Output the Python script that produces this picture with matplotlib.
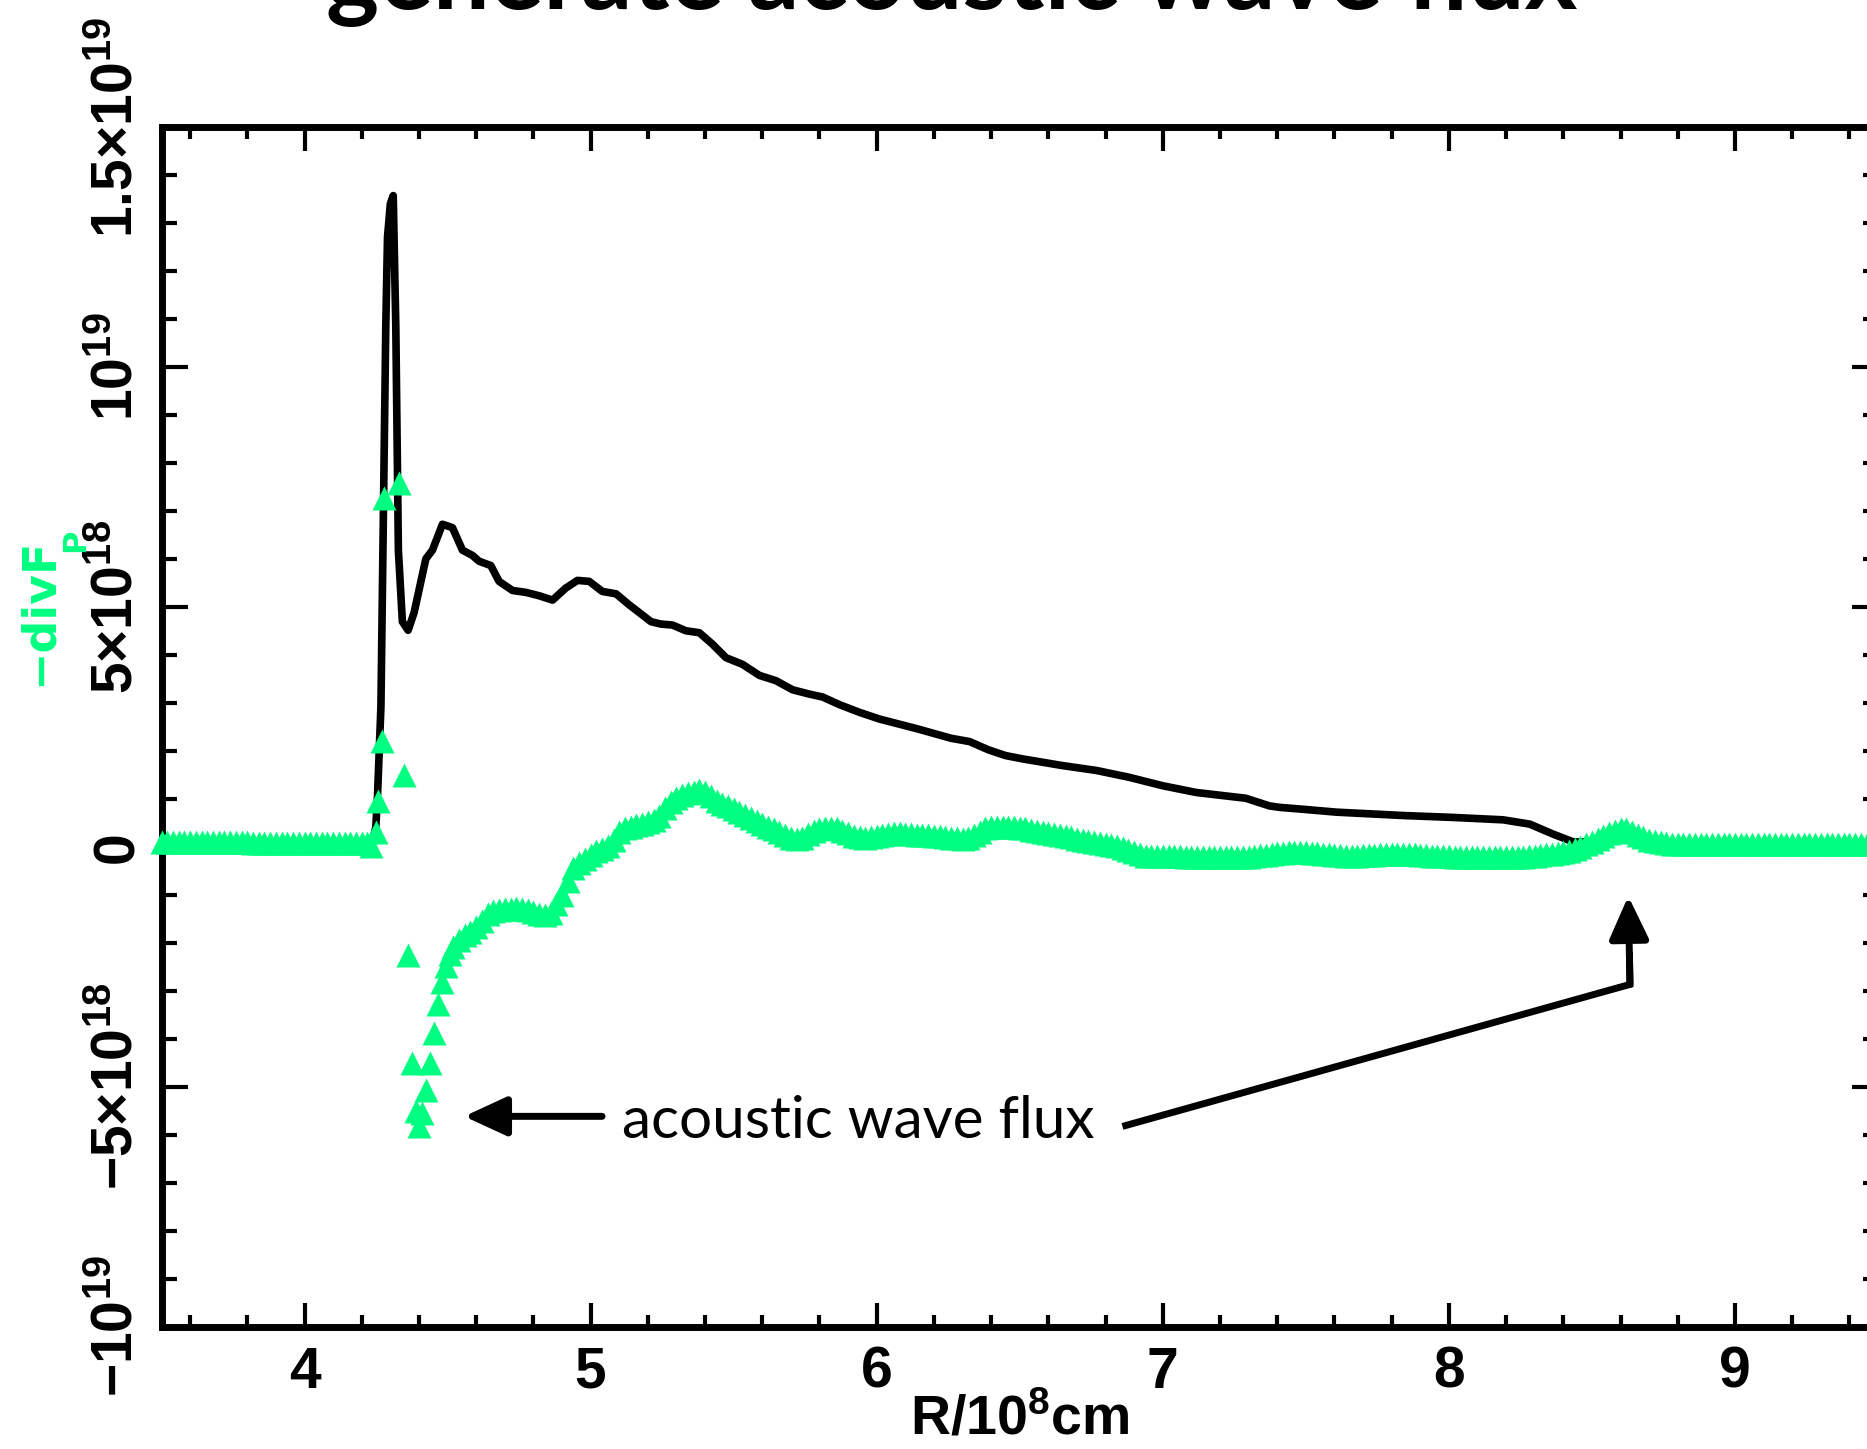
import matplotlib
matplotlib.use('Agg')
import matplotlib.pyplot as plt
import numpy as np
from matplotlib.ticker import MultipleLocator

plt.rcParams['font.family'] = ['Liberation Sans', 'DejaVu Sans']
plt.rcParams['font.weight'] = 'bold'
plt.rcParams['mathtext.fontset'] = 'custom'
plt.rcParams['mathtext.bf'] = 'Liberation Sans:bold'
plt.rcParams['mathtext.rm'] = 'Liberation Sans:bold'
plt.rcParams['mathtext.it'] = 'Liberation Sans:bold'
plt.rcParams['mathtext.default'] = 'bf'

# ---------------- data (y in units of 1e18) ----------------
black_x = [3.50, 3.60, 3.70, 3.75, 3.80, 3.90, 4.00, 4.10, 4.20, 4.237, 4.249, 4.255,
           4.267, 4.276, 4.284, 4.290, 4.300, 4.310, 4.319, 4.328, 4.342, 4.362, 4.383,
           4.424, 4.447, 4.482, 4.517, 4.552, 4.587, 4.610, 4.651, 4.680, 4.727, 4.774,
           4.820, 4.867, 4.913, 4.954, 4.995, 5.041, 5.089, 5.135, 5.170, 5.211, 5.246,
           5.286, 5.333, 5.380, 5.426, 5.473, 5.531, 5.590, 5.648, 5.706, 5.765, 5.811,
           5.870, 5.940, 6.010, 6.075, 6.140, 6.200, 6.260, 6.325, 6.390, 6.450, 6.510,
           6.650, 6.767, 6.880, 7.000, 7.117, 7.290, 7.373, 7.408, 7.490, 7.607, 7.840,
           8.015, 8.190, 8.283, 8.365, 8.435, 8.480, 8.540, 8.597, 8.650, 8.700, 8.800,
           9.000, 9.500]
black_y = [0.0, 0.0, -0.05, -0.08, -0.05, 0.0, 0.0, 0.0, 0.02, 0.10, 0.40, 1.05,
           2.92, 7.12, 10.85, 12.71, 13.40, 13.57, 10.85, 6.18, 4.69, 4.51, 4.88,
           6.00, 6.18, 6.72, 6.65, 6.18, 6.07, 5.95, 5.86, 5.53, 5.34, 5.30,
           5.23, 5.14, 5.39, 5.55, 5.53, 5.32, 5.27, 5.04, 4.88, 4.69, 4.64,
           4.62, 4.50, 4.46, 4.22, 3.94, 3.80, 3.57, 3.46, 3.27, 3.18, 3.12,
           2.96, 2.80, 2.66, 2.56, 2.46, 2.36, 2.26, 2.19, 2.02, 1.90, 1.83,
           1.69, 1.59, 1.45, 1.27, 1.13, 1.01, 0.85, 0.82, 0.78, 0.72, 0.65,
           0.61, 0.56, 0.47, 0.26, 0.10, 0.10, 0.12, 0.16, 0.12, 0.03, 0.0,
           0.0, 0.0]

# -divF_P samples: (R, value)
green_inner = [
    (3.50, 0.10), (3.52, 0.10), (3.54, 0.10), (3.56, 0.10), (3.58, 0.10), (3.60, 0.10),
    (3.62, 0.09), (3.64, 0.09), (3.66, 0.09), (3.68, 0.09), (3.70, 0.09), (3.72, 0.09),
    (3.74, 0.09), (3.76, 0.09), (3.78, 0.09), (3.80, 0.09), (3.82, 0.08), (3.84, 0.08),
    (3.86, 0.08), (3.88, 0.08), (3.90, 0.08), (3.92, 0.08), (3.94, 0.08), (3.96, 0.08),
    (3.98, 0.08), (4.00, 0.08), (4.02, 0.08), (4.04, 0.08), (4.06, 0.08), (4.08, 0.08),
    (4.10, 0.07), (4.12, 0.07), (4.14, 0.07), (4.16, 0.07), (4.18, 0.07), (4.20, 0.07),
    (4.22, 0.07)]
green_jump = [
    (4.232, 0.02), (4.249, 0.30), (4.258, 0.96), (4.271, 2.21), (4.279, 7.26),
    (4.329, 7.59), (4.346, 1.49), (4.362, -2.25), (4.375, -4.50), (4.388, -5.50),
    (4.399, -5.82), (4.412, -5.55), (4.425, -5.07), (4.440, -4.50), (4.453, -3.88),
    (4.467, -3.28), (4.480, -2.81), (4.494, -2.49), (4.508, -2.24)]
green_outer = [
    (4.52, -2.10), (4.54, -1.95), (4.56, -1.85), (4.58, -1.78), (4.60, -1.68), (4.62, -1.55),
    (4.64, -1.40), (4.66, -1.33), (4.68, -1.31), (4.70, -1.30), (4.72, -1.29), (4.74, -1.28),
    (4.76, -1.30), (4.78, -1.32), (4.80, -1.37), (4.82, -1.41), (4.84, -1.42), (4.86, -1.38),
    (4.88, -1.20), (4.90, -1.00), (4.92, -0.72), (4.94, -0.45), (4.96, -0.33), (4.98, -0.25),
    (5.00, -0.18), (5.02, -0.10), (5.04, -0.05), (5.06, 0.02), (5.08, 0.15), (5.10, 0.30),
    (5.12, 0.38), (5.14, 0.42), (5.16, 0.45), (5.18, 0.48), (5.20, 0.52), (5.22, 0.56),
    (5.24, 0.65), (5.26, 0.80), (5.28, 0.93), (5.30, 1.02), (5.32, 1.08), (5.34, 1.12),
    (5.36, 1.15), (5.38, 1.18), (5.40, 1.15), (5.42, 1.05), (5.44, 0.96), (5.46, 0.90),
    (5.48, 0.84), (5.50, 0.78), (5.52, 0.72), (5.54, 0.66), (5.56, 0.60), (5.58, 0.54),
    (5.60, 0.48), (5.62, 0.42), (5.64, 0.36), (5.66, 0.30), (5.68, 0.24), (5.70, 0.18),
    (5.72, 0.16), (5.74, 0.18), (5.76, 0.26), (5.78, 0.33), (5.80, 0.36), (5.82, 0.38),
    (5.84, 0.39), (5.86, 0.38), (5.88, 0.33), (5.90, 0.28), (5.92, 0.23), (5.94, 0.20),
    (5.96, 0.19), (5.98, 0.20), (6.00, 0.22), (6.02, 0.25), (6.04, 0.27), (6.06, 0.28),
    (6.08, 0.28), (6.10, 0.27), (6.12, 0.26), (6.14, 0.25), (6.16, 0.24), (6.18, 0.24),
    (6.20, 0.23), (6.22, 0.22), (6.24, 0.20), (6.26, 0.19), (6.28, 0.18), (6.30, 0.17),
    (6.32, 0.19), (6.34, 0.24), (6.36, 0.31), (6.38, 0.38), (6.40, 0.41), (6.42, 0.42),
    (6.44, 0.42), (6.46, 0.42), (6.48, 0.41), (6.50, 0.40), (6.52, 0.38), (6.54, 0.35),
    (6.56, 0.33), (6.58, 0.31), (6.60, 0.29), (6.62, 0.27), (6.64, 0.25), (6.66, 0.22),
    (6.68, 0.20), (6.70, 0.17), (6.72, 0.15), (6.74, 0.12), (6.76, 0.10), (6.78, 0.07),
    (6.80, 0.05), (6.82, 0.03), (6.84, 0.01), (6.86, -0.02), (6.88, -0.07), (6.90, -0.12),
    (6.92, -0.16), (6.94, -0.19), (6.96, -0.20), (6.98, -0.20), (7.00, -0.20), (7.02, -0.20),
    (7.04, -0.20), (7.06, -0.20), (7.08, -0.21), (7.10, -0.21), (7.12, -0.22), (7.14, -0.22),
    (7.16, -0.22), (7.18, -0.22), (7.20, -0.22), (7.22, -0.22), (7.24, -0.22), (7.26, -0.22),
    (7.28, -0.22), (7.30, -0.21), (7.32, -0.20), (7.34, -0.18), (7.36, -0.17), (7.38, -0.15),
    (7.40, -0.14), (7.42, -0.13), (7.44, -0.12), (7.46, -0.12), (7.48, -0.12), (7.50, -0.12),
    (7.52, -0.13), (7.54, -0.14), (7.56, -0.15), (7.58, -0.16), (7.60, -0.17), (7.62, -0.18),
    (7.64, -0.19), (7.66, -0.19), (7.68, -0.19), (7.70, -0.18), (7.72, -0.18), (7.74, -0.17),
    (7.76, -0.16), (7.78, -0.16), (7.80, -0.15), (7.82, -0.15), (7.84, -0.15), (7.86, -0.16),
    (7.88, -0.16), (7.90, -0.17), (7.92, -0.18), (7.94, -0.19), (7.96, -0.19), (7.98, -0.20),
    (8.00, -0.20), (8.02, -0.21), (8.04, -0.21), (8.06, -0.22), (8.08, -0.22), (8.10, -0.22),
    (8.12, -0.22), (8.14, -0.22), (8.16, -0.22), (8.18, -0.22), (8.20, -0.22), (8.22, -0.22),
    (8.24, -0.22), (8.26, -0.21), (8.28, -0.20), (8.30, -0.19), (8.32, -0.18), (8.34, -0.16),
    (8.36, -0.15), (8.38, -0.13), (8.40, -0.12), (8.42, -0.08), (8.44, -0.04), (8.46, 0.00),
    (8.48, 0.05), (8.50, 0.10), (8.52, 0.16), (8.54, 0.23), (8.56, 0.28), (8.58, 0.33),
    (8.60, 0.36), (8.62, 0.36), (8.64, 0.31), (8.66, 0.25), (8.68, 0.20), (8.70, 0.15),
    (8.72, 0.11), (8.74, 0.09), (8.76, 0.07), (8.78, 0.06), (8.80, 0.05), (8.82, 0.05),
    (8.84, 0.05), (8.86, 0.05), (8.88, 0.05), (8.90, 0.05), (8.92, 0.05), (8.94, 0.05),
    (8.96, 0.05), (8.98, 0.05), (9.00, 0.05), (9.02, 0.05), (9.04, 0.05), (9.06, 0.05),
    (9.08, 0.05), (9.10, 0.05), (9.12, 0.05), (9.14, 0.05), (9.16, 0.05), (9.18, 0.05),
    (9.20, 0.05), (9.22, 0.05), (9.24, 0.05), (9.26, 0.05), (9.28, 0.05), (9.30, 0.05),
    (9.32, 0.05), (9.34, 0.05), (9.36, 0.05), (9.38, 0.05), (9.40, 0.05), (9.42, 0.05),
    (9.44, 0.05), (9.46, 0.05), (9.48, 0.05), (9.50, 0.05)]

y_ticks = [-1e19, -5e18, 0, 5e18, 1e19, 1.5e19]
y_ticklabels = [r'$-10^{19}$', r'$-5{\times}10^{18}$', '0', r'$5{\times}10^{18}$',
                r'$10^{19}$', r'$1.5{\times}10^{19}$']
x_ticks = [4, 5, 6, 7, 8, 9]
x_ticklabels = ['4', '5', '6', '7', '8', '9']

GREEN = '#00FF80'
W, H = 1867, 1449

green_pts = green_inner + green_jump + green_outer
green_x = np.array([p[0] for p in green_pts])
green_y = np.array([p[1] for p in green_pts])

fig = plt.figure(figsize=(W / 100, H / 100), dpi=100)
ax = fig.add_axes([161.5 / W, 1 - 1326.5 / H, (1878 - 161.5) / W, (1326.5 - 127) / H])

ax.plot(black_x, np.array(black_y) * 1e18, color='k', lw=5.5,
        solid_joinstyle='round', zorder=2)
ax.plot(green_x, green_y * 1e18, ls='none', marker='^', ms=17,
        mfc=GREEN, mec='none', zorder=3, clip_on=False)

ax.set_xlim(3.5, 9.5)
ax.set_ylim(-1e19, 1.5e19)
ax.set_xticks(x_ticks)
ax.set_xticklabels(x_ticklabels, fontsize=41, fontweight='bold')
ax.xaxis.set_minor_locator(MultipleLocator(0.2))
ax.set_yticks(y_ticks)
ax.set_yticklabels(y_ticklabels, fontsize=41, rotation=90, va='center', ha='right')
ax.yaxis.set_minor_locator(MultipleLocator(1e18))

for s in ax.spines.values():
    s.set_linewidth(5)
ax.tick_params(which='both', direction='in', top=True, right=True, width=3)
ax.tick_params(axis='y', which='major', length=19, pad=12)
ax.tick_params(axis='y', which='minor', length=11)
ax.tick_params(axis='x', which='major', length=17, pad=14)
ax.tick_params(axis='x', which='minor', length=8.5)

# annotation text and arrows
ax.text(5.11, -6.07e18, 'acoustic wave flux', fontsize=42, family='Lato',
        fontweight='normal', ha='left', va='baseline', zorder=4)
head = '-|>,head_length=1.3,head_width=0.6'
ax.annotate('', xy=(4.558, -5.62e18), xytext=(5.04, -5.62e18),
            arrowprops=dict(arrowstyle=head, mutation_scale=20, lw=5, color='k',
                            shrinkA=0, shrinkB=0), zorder=4)
ax.plot([6.859, 8.633, 8.631], [-5.83e18, -2.87e18, -2.2e18], color='k', lw=5,
        solid_joinstyle='miter', solid_capstyle='butt', zorder=4)
ax.annotate('', xy=(8.627, -1.03e18), xytext=(8.633, -2.87e18),
            arrowprops=dict(arrowstyle=head, mutation_scale=20, lw=5, color='k',
                            shrinkA=0, shrinkB=0), zorder=4)

# axis labels
fig.text(1020 / W, 1 - 1435 / H, r'$R/10^{8}cm$', fontsize=40, ha='center', va='baseline')
fig.text(52 / W, 1 - 686 / H, '\u2212divF', rotation=90, rotation_mode='anchor',
         ha='left', va='baseline', fontsize=33, color=GREEN, fontweight='bold',
         family='DejaVu Sans')
fig.text(84 / W, 1 - 552 / H, 'P', rotation=90, rotation_mode='anchor',
         ha='left', va='baseline', fontsize=23, color=GREEN, fontweight='bold',
         family='DejaVu Sans')

# title (cut at top of image)
t = fig.text(952 / W, 1 - 9 / H, 'generate acoustic wave flux', ha='center',
             va='baseline', fontsize=70, family='Lato', fontweight='bold')
fig.canvas.draw()
bb = t.get_window_extent()
t.set_fontsize(70 * 1251 / bb.width)

fig.savefig('out.png', dpi=100)
